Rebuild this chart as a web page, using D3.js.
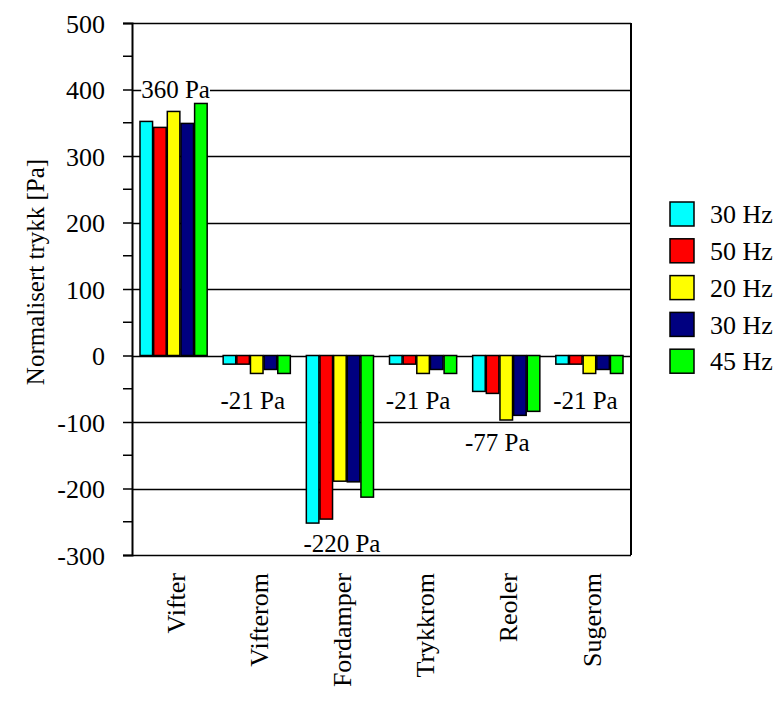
<!DOCTYPE html>
<html>
<head>
<meta charset="utf-8">
<script src="https://cdn.jsdelivr.net/npm/d3@7"></script>
<style>
  body { margin: 0; background: #fff; }
</style>
</head>
<body>
<svg width="779" height="702"></svg>
<script>
// categories and series
let categories = ["Vifter", "Vifterom", "Fordamper", "Trykkrom", "Reoler", "Sugerom"];
let seriesNames = ["30 Hz", "50 Hz", "20 Hz", "30 Hz", "45 Hz"];
let seriesColors = ["#00ffff", "#ff0000", "#ffff00", "#000080", "#00ff00"];
// one row per series, one value per category [Pa]
let s30a = [352, -13, -252, -13, -54, -13];
let s50  = [343, -13, -246, -13, -57, -13];
let s20  = [367, -27, -189, -27, -97, -27];
let s30b = [349, -21, -190, -21, -90, -21];
let s45  = [379, -27, -213, -27, -84, -27];
let values = [s30a, s50, s20, s30b, s45];

let yTicks = [500, 400, 300, 200, 100, 0, -100, -200, -300];
let annotations = [
  { cat: "Vifter",    y: 400,  text: "360 Pa",  dx: 2 },
  { cat: "Vifterom",  y: -67,  text: "-21 Pa",  dx: -4 },
  { cat: "Fordamper", y: -282, text: "-220 Pa", dx: 2 },
  { cat: "Trykkrom",  y: -67,  text: "-21 Pa",  dx: -5 },
  { cat: "Reoler",    y: -130, text: "-77 Pa",  dx: -9 },
  { cat: "Sugerom",   y: -67,  text: "-21 Pa",  dx: -4 }
];

let FONT = "'Liberation Serif', 'Times New Roman', 'DejaVu Serif', serif";

let margin = { left: 132, right: 148, top: 23, bottom: 147 };
let svg = d3.select("svg");
let W = +svg.attr("width"), H = +svg.attr("height");
let plotW = W - margin.left - margin.right;
let plotH = H - margin.top - margin.bottom;

let g = svg.append("g").attr("transform", "translate(" + margin.left + "," + margin.top + ")");

let x0 = d3.scaleBand().domain(categories).range([0, plotW]).padding(0);
let x1 = d3.scaleBand().domain(d3.range(seriesNames.length))
    .range([8, x0.bandwidth() - 8]).paddingInner(0.08);
let y = d3.scaleLinear().domain([-300, 500]).range([plotH, 0]);

// gridlines
g.append("g").selectAll("line")
  .data(yTicks)
  .enter().append("line")
    .attr("x1", 0).attr("x2", plotW)
    .attr("y1", function(d) { return Math.round(y(d)) + 0.5; })
    .attr("y2", function(d) { return Math.round(y(d)) + 0.5; })
    .attr("stroke", "#000").attr("stroke-width", 1.3);

// right border
g.append("line")
  .attr("x1", plotW).attr("x2", plotW)
  .attr("y1", y(500)).attr("y2", y(-300))
  .attr("stroke", "#000").attr("stroke-width", 2);

// bars
let groups = g.append("g").selectAll("g")
  .data(categories)
  .enter().append("g")
    .attr("transform", function(d) { return "translate(" + x0(d) + ",0)"; });

groups.selectAll("rect")
  .data(function(d, i) { return values.map(function(s, k) { return { k: k, v: s[i] }; }); })
  .enter().append("rect")
    .attr("x", function(d) { return x1(d.k); })
    .attr("width", x1.bandwidth())
    .attr("y", function(d) { return y(Math.max(0, d.v)); })
    .attr("height", function(d) { return Math.abs(y(d.v) - y(0)); })
    .attr("fill", function(d) { return seriesColors[d.k]; })
    .attr("stroke", "#000").attr("stroke-width", 1.5);

// y axis
let yAxis = d3.axisLeft(y).tickValues(yTicks).tickSize(9).tickPadding(18)
  .tickFormat(function(d) { return String(d); });
let ya = g.append("g").call(yAxis).attr("font-family", FONT).attr("font-size", 26);
ya.select(".domain").attr("stroke-width", 2);
ya.selectAll(".tick line").attr("stroke-width", 1.5);
ya.selectAll("text").attr("dy", "0.35em").attr("fill", "#000");
// minor ticks
g.append("g").selectAll("line")
  .data(d3.range(-250, 500, 100))
  .enter().append("line")
    .attr("x1", -9).attr("x2", 0)
    .attr("y1", function(d) { return y(d); }).attr("y2", function(d) { return y(d); })
    .attr("stroke", "#000").attr("stroke-width", 1.5);

// category labels (rotated)
g.append("g").selectAll("text")
  .data(categories)
  .enter().append("text")
    .attr("transform", function(d) {
      return "translate(" + (x0(d) + x0.bandwidth() / 2 + 2) + "," + (plotH + 18) + ") rotate(-90)";
    })
    .attr("text-anchor", "end")
    .attr("dy", "0.35em")
    .attr("font-family", FONT)
    .attr("font-size", 26)
    .text(function(d) { return d; });

// y axis title
svg.append("text")
  .attr("transform", "translate(35," + 272 + ") rotate(-90)")
  .attr("text-anchor", "middle")
  .attr("dy", "0.35em")
  .attr("font-family", FONT)
  .attr("font-size", 25)
  .text("Normalisert trykk [Pa]");

// annotations with white backing
let ann = g.append("g").selectAll("g")
  .data(annotations)
  .enter().append("g")
    .attr("transform", function(d) {
      return "translate(" + (x0(d.cat) + x0.bandwidth() / 2 + d.dx) + "," + y(d.y) + ")";
    });
ann.append("text")
  .attr("text-anchor", "middle")
  .attr("dy", "0.35em")
  .attr("font-family", FONT)
  .attr("font-size", 25)
  .text(function(d) { return d.text; });
ann.each(function() {
  let t = d3.select(this).select("text");
  let b = t.node().getBBox();
  d3.select(this).insert("rect", "text")
    .attr("x", b.x).attr("y", b.y + 4).attr("width", b.width).attr("height", b.height - 8)
    .attr("fill", "#fff");
});

// legend
let legend = svg.append("g").attr("transform", "translate(670,202)");
let li = legend.selectAll("g")
  .data(seriesNames)
  .enter().append("g")
    .attr("transform", function(d, i) { return "translate(0," + (i * 36.8) + ")"; });
li.append("rect")
  .attr("width", 24).attr("height", 24)
  .attr("fill", function(d, i) { return seriesColors[i]; })
  .attr("stroke", "#000").attr("stroke-width", 1.5);
li.append("text")
  .attr("x", 40).attr("y", 12).attr("dy", "0.35em")
  .attr("font-family", FONT)
  .attr("font-size", 26)
  .text(function(d) { return d; });
</script>
</body>
</html>
